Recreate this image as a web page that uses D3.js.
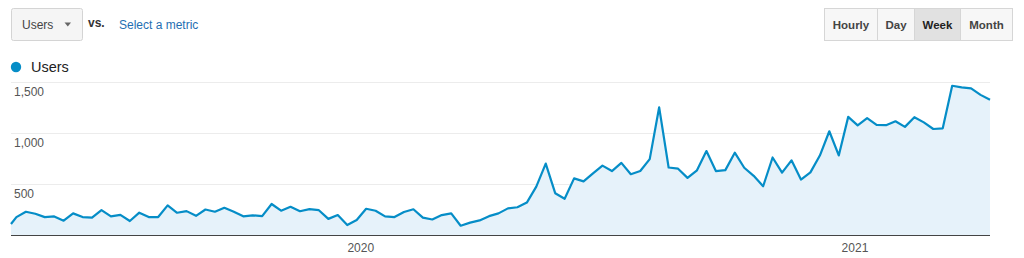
<!DOCTYPE html>
<html>
<head>
<meta charset="utf-8">
<script src="https://cdn.jsdelivr.net/npm/d3@7"></script>
<style>
  html, body { margin: 0; padding: 0; background: #fff; }
  svg { display: block; font-family: Arial, "Liberation Sans", sans-serif; }
</style>
</head>
<body>
<svg></svg>
<script>
// weekly users, first point is a partial week
const firstDay = "2019-04-17";
const sundayStart = "2019-04-21", sundayEnd = "2021-04-12";
const users = [
  108, 175, 228, 208, 175, 182, 140, 212, 176, 170, 244, 183, 197, 137, 219, 176, 176, 291, 218, 234,
  188, 250, 228, 267, 228, 183, 193, 185, 304, 238, 276, 233, 253, 243, 158, 196, 98, 147, 257, 238,
  183, 176, 226, 252, 170, 152, 195, 212, 91, 121, 143, 185, 212, 261, 272, 318, 474, 700, 410, 355,
  555, 526, 605, 680, 627, 707, 596, 627, 744, 1252, 662, 650, 560, 634, 823, 627, 636, 807, 659, 580,
  478, 760, 611, 732, 544, 614, 779, 1017, 780, 1158, 1075, 1145, 1079, 1077, 1115, 1060, 1155, 1104, 1039, 1046,
  1463, 1447, 1437, 1374, 1326
];
const yTicks = [500, 1000, 1500];
const yearTicks = ["2020-01-01", "2021-01-01"];
const periods = ["Hourly", "Day", "Week", "Month"];
const activePeriod = "Week";

const width = 1024, height = 258;
const svg = d3.select('svg').attr('width', width).attr('height', height);

const parse = d3.utcParse("%Y-%m-%d");
const dates = [parse(firstDay)].concat(d3.utcSunday.range(parse(sundayStart), parse(sundayEnd)));
const data = dates.map((d, i) => ({date: d, value: users[i]}));

const x = d3.scaleUtc()
    .domain(d3.extent(dates))
    .range([11, 990]);
const y = d3.scaleLinear()
    .domain([0, 1500])
    .range([235, 82]);

// metric picker top left
const picker = svg.append('g');
picker.append('rect')
    .attr('x', 11.5).attr('y', 8.5)
    .attr('width', 71).attr('height', 32)
    .attr('rx', 2)
    .style('fill', '#f5f5f5')
    .style('stroke', '#d4d4d4');
picker.append('text')
    .attr('x', 22).attr('y', 29)
    .style('font-size', '12px')
    .style('fill', '#444')
    .text('Users');
picker.append('path')
    .attr('d', 'M64.5,22.5 L71,22.5 L67.75,26.5 Z')
    .style('fill', '#666');
svg.append('text')
    .attr('x', 88).attr('y', 26.5)
    .style('font-size', '12px')
    .style('font-weight', 'bold')
    .style('fill', '#333')
    .text('vs.');
svg.append('text')
    .attr('x', 119).attr('y', 29)
    .style('font-size', '12px')
    .style('fill', '#1f6fb2')
    .text('Select a metric');

// period buttons top right
const btnX = d3.scaleOrdinal()
    .domain(periods)
    .range([[824, 877], [877, 914], [914, 960], [960, 1012]]);
const buttons = svg.append('g')
    .selectAll('g')
    .data(periods)
    .enter().append('g');
buttons.append('rect')
    .attr('x', d => btnX(d)[0] + 0.5)
    .attr('y', 8.5)
    .attr('width', d => btnX(d)[1] - btnX(d)[0])
    .attr('height', 32)
    .style('fill', d => d === activePeriod ? '#e1e1e1' : '#f7f7f7')
    .style('stroke', '#d6d6d6');
buttons.append('text')
    .attr('x', d => (btnX(d)[0] + btnX(d)[1]) / 2 + 0.5)
    .attr('y', 29)
    .attr('text-anchor', 'middle')
    .style('font-size', '11.5px')
    .style('font-weight', 'bold')
    .style('fill', d => d === activePeriod ? '#222' : '#444')
    .text(d => d);

// legend
svg.append('circle')
    .attr('cx', 16).attr('cy', 67).attr('r', 5.2)
    .style('fill', '#058dc7');
svg.append('text')
    .attr('x', 31).attr('y', 72)
    .style('font-size', '14.5px')
    .style('fill', '#222')
    .text('Users');

// gridlines and y labels
const grid = svg.append('g');
grid.selectAll('line')
    .data(yTicks)
    .enter().append('line')
    .attr('x1', 11).attr('x2', 990)
    .attr('y1', d => Math.round(y(d)) + 0.5)
    .attr('y2', d => Math.round(y(d)) + 0.5)
    .style('stroke', '#ececec');

const area = d3.area()
    .x(d => x(d.date))
    .y0(y(0))
    .y1(d => y(d.value));
const line = d3.line()
    .x(d => x(d.date))
    .y(d => y(d.value));

svg.append('path')
    .datum(data)
    .attr('d', area)
    .style('fill', '#e6f2fa');

grid.selectAll('text')
    .data(yTicks)
    .enter().append('text')
    .attr('x', 14)
    .attr('y', d => y(d) + 14)
    .style('font-size', '12px')
    .style('fill', '#555')
    .text(d => d3.format(',')(d));

svg.append('path')
    .datum(data)
    .attr('d', line)
    .style('fill', 'none')
    .style('stroke', '#058dc7')
    .style('stroke-width', 2.2)
    .style('stroke-linejoin', 'round');

// x axis baseline and years
svg.append('line')
    .attr('x1', 11).attr('x2', 990)
    .attr('y1', 235.5).attr('y2', 235.5)
    .style('stroke', '#444');
svg.append('g')
    .selectAll('text')
    .data(yearTicks.map(parse))
    .enter().append('text')
    .attr('x', d => x(d))
    .attr('y', 251.5)
    .attr('text-anchor', 'middle')
    .style('font-size', '12px')
    .style('fill', '#555')
    .text(d3.utcFormat('%Y'));
</script>
</body>
</html>
